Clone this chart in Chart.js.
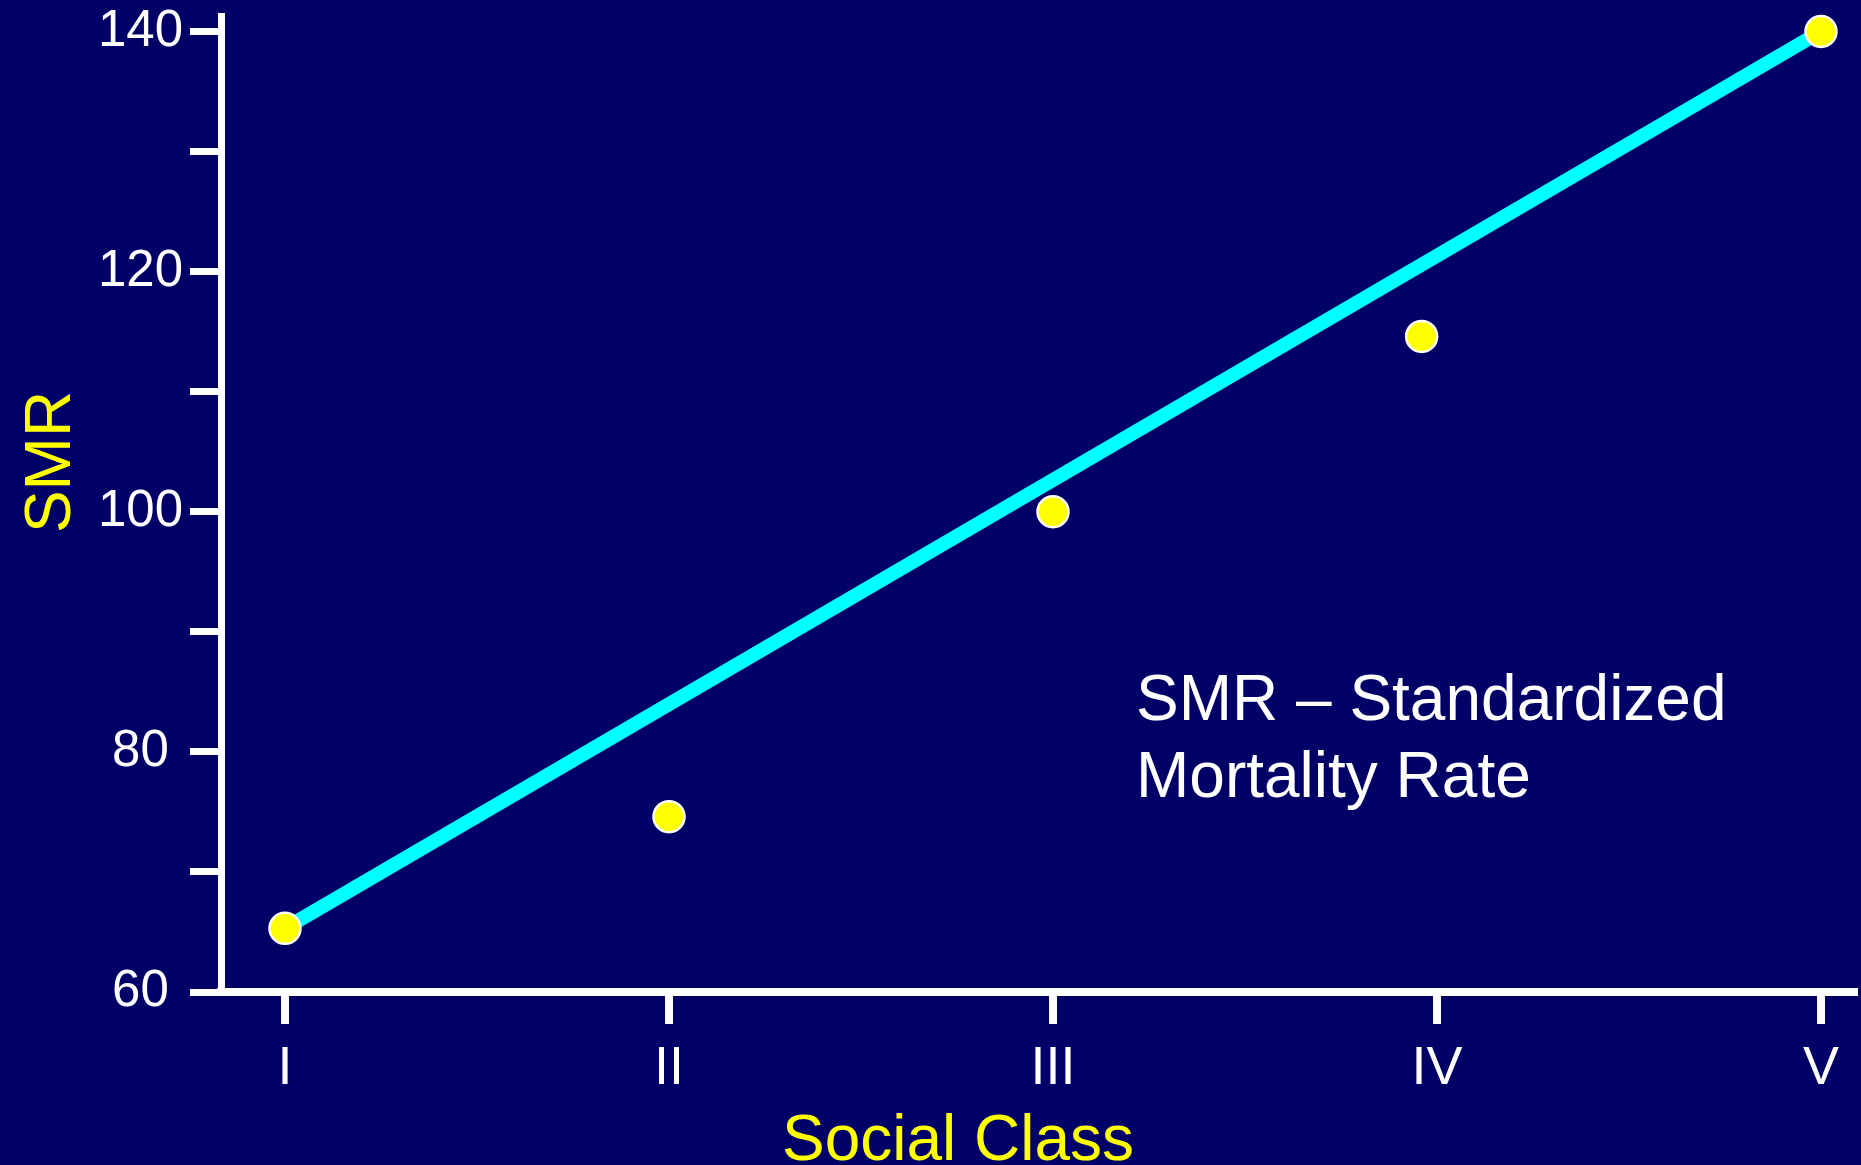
<!DOCTYPE html>
<html>
<head>
<meta charset="utf-8">
<title>SMR by Social Class</title>
<script src="https://cdn.jsdelivr.net/npm/chart.js@4/dist/chart.umd.min.js"></script>
<style>
  html, body { margin: 0; padding: 0; background: #000066; overflow: hidden; }
  #wrap { width: 1861px; height: 1165px; position: relative; }
  #smrChart { display: block; }
</style>
</head>
<body>
<div id="wrap"><canvas id="smrChart"></canvas></div>
<script>
// values
const classLabels = ['I', 'II', 'III', 'IV', 'V'];
const classPos = [1, 2, 3, 3.96, 5];
const smrValues = [65.3, 74.6, 100, 114.6, 140];

// straight line drawn from class I to class V
const trendPos = [1, 5];
const trendSmr = [65.3, 140];

const yTicks = [60, 70, 80, 90, 100, 110, 120, 130, 140];
const yLabelled = [60, 80, 100, 120, 140];

const noteLines = ['SMR \u2013 Standardized', 'Mortality Rate'];

const fontFamily = "'Liberation Sans', Arial, Helvetica, sans-serif";
Chart.defaults.font.family = fontFamily;

// axis titles and the note on the right
const textPlugin = {
    id: 'texts',
    afterDraw(chart) {
        const ctx = chart.ctx;
        ctx.save();
        ctx.fillStyle = '#ffff00';
        ctx.font = '64px ' + fontFamily;
        ctx.textAlign = 'center';
        ctx.textBaseline = 'alphabetic';
        ctx.fillText('Social Class', 958, 1160);

        ctx.save();
        ctx.translate(70, 462);
        ctx.rotate(-Math.PI / 2);
        ctx.fillText('SMR', 0, 0);
        ctx.restore();

        ctx.fillStyle = '#ffffff';
        ctx.font = '64px ' + fontFamily;
        ctx.textAlign = 'left';
        ctx.fillText(noteLines[0], 1136, 720);
        ctx.fillText(noteLines[1], 1136, 797);
        ctx.restore();
    }
};

// keep the plot area where it is in the picture
function noPadding(axis) {
    axis.paddingLeft = 0;
    axis.paddingRight = 0;
    axis.paddingTop = 0;
    axis.paddingBottom = 0;
}

const config = {
    type: 'scatter',
    data: {
        datasets: [{
            label: 'SMR',
            data: classPos.map((x, i) => ({ x: x, y: smrValues[i] })),
            pointRadius: 15.5,
            pointBackgroundColor: '#ffff00',
            pointBorderColor: '#ffffff',
            pointBorderWidth: 2.5,
            showLine: false,
            clip: false,
            order: 1
        },
        {
            label: 'Trend',
            type: 'line',
            data: trendPos.map((x, i) => ({ x: x, y: trendSmr[i] })),
            borderColor: '#00ffff',
            borderWidth: 14,
            pointRadius: 0,
            fill: false,
            clip: false,
            order: 2
        }]
    },
    options: {
        responsive: true,
        maintainAspectRatio: false,
        animation: false,
        layout: { autoPadding: false, padding: { top: 16, right: 7, left: 0, bottom: 0 } },
        plugins: {
            legend: { display: false },
            tooltip: { enabled: false },
            title: { display: false }
        },
        scales: {
            x: {
                type: 'linear',
                min: 1 - 64 / 384,
                max: 5 + 33 / 384,
                afterBuildTicks: (axis) => {
                    axis.ticks = classPos.map((v, i) => ({ value: i + 1 }));
                },
                afterFit: (axis) => { axis.height = 173; noPadding(axis); },
                grid: {
                    drawOnChartArea: false,
                    drawTicks: true,
                    tickLength: 32,
                    color: '#ffffff',
                    lineWidth: 8
                },
                border: { display: true, color: '#ffffff', width: 8 },
                ticks: {
                    color: '#ffffff',
                    font: { size: 54 },
                    padding: 13,
                    maxRotation: 0,
                    autoSkip: false,
                    callback: (v) => classLabels[Math.round(v) - 1] || ''
                }
            },
            y: {
                type: 'linear',
                min: 60,
                max: 140 + 15.5 / 12,
                afterBuildTicks: (axis) => {
                    axis.ticks = yTicks.map((v) => ({ value: v }));
                },
                afterFit: (axis) => { axis.width = 221; noPadding(axis); },
                grid: {
                    drawOnChartArea: false,
                    drawTicks: true,
                    tickLength: 31,
                    color: '#ffffff',
                    lineWidth: 7
                },
                border: { display: true, color: '#ffffff', width: 7 },
                ticks: {
                    color: '#ffffff',
                    font: { size: 51 },
                    padding: 7,
                    crossAlign: 'center',
                    autoSkip: false,
                    callback: (v) => yLabelled.includes(v) ? String(v) : ''
                }
            }
        }
    },
    plugins: [textPlugin]
};

const smrChart = new Chart(document.getElementById('smrChart'), config);
</script>
</body>
</html>
